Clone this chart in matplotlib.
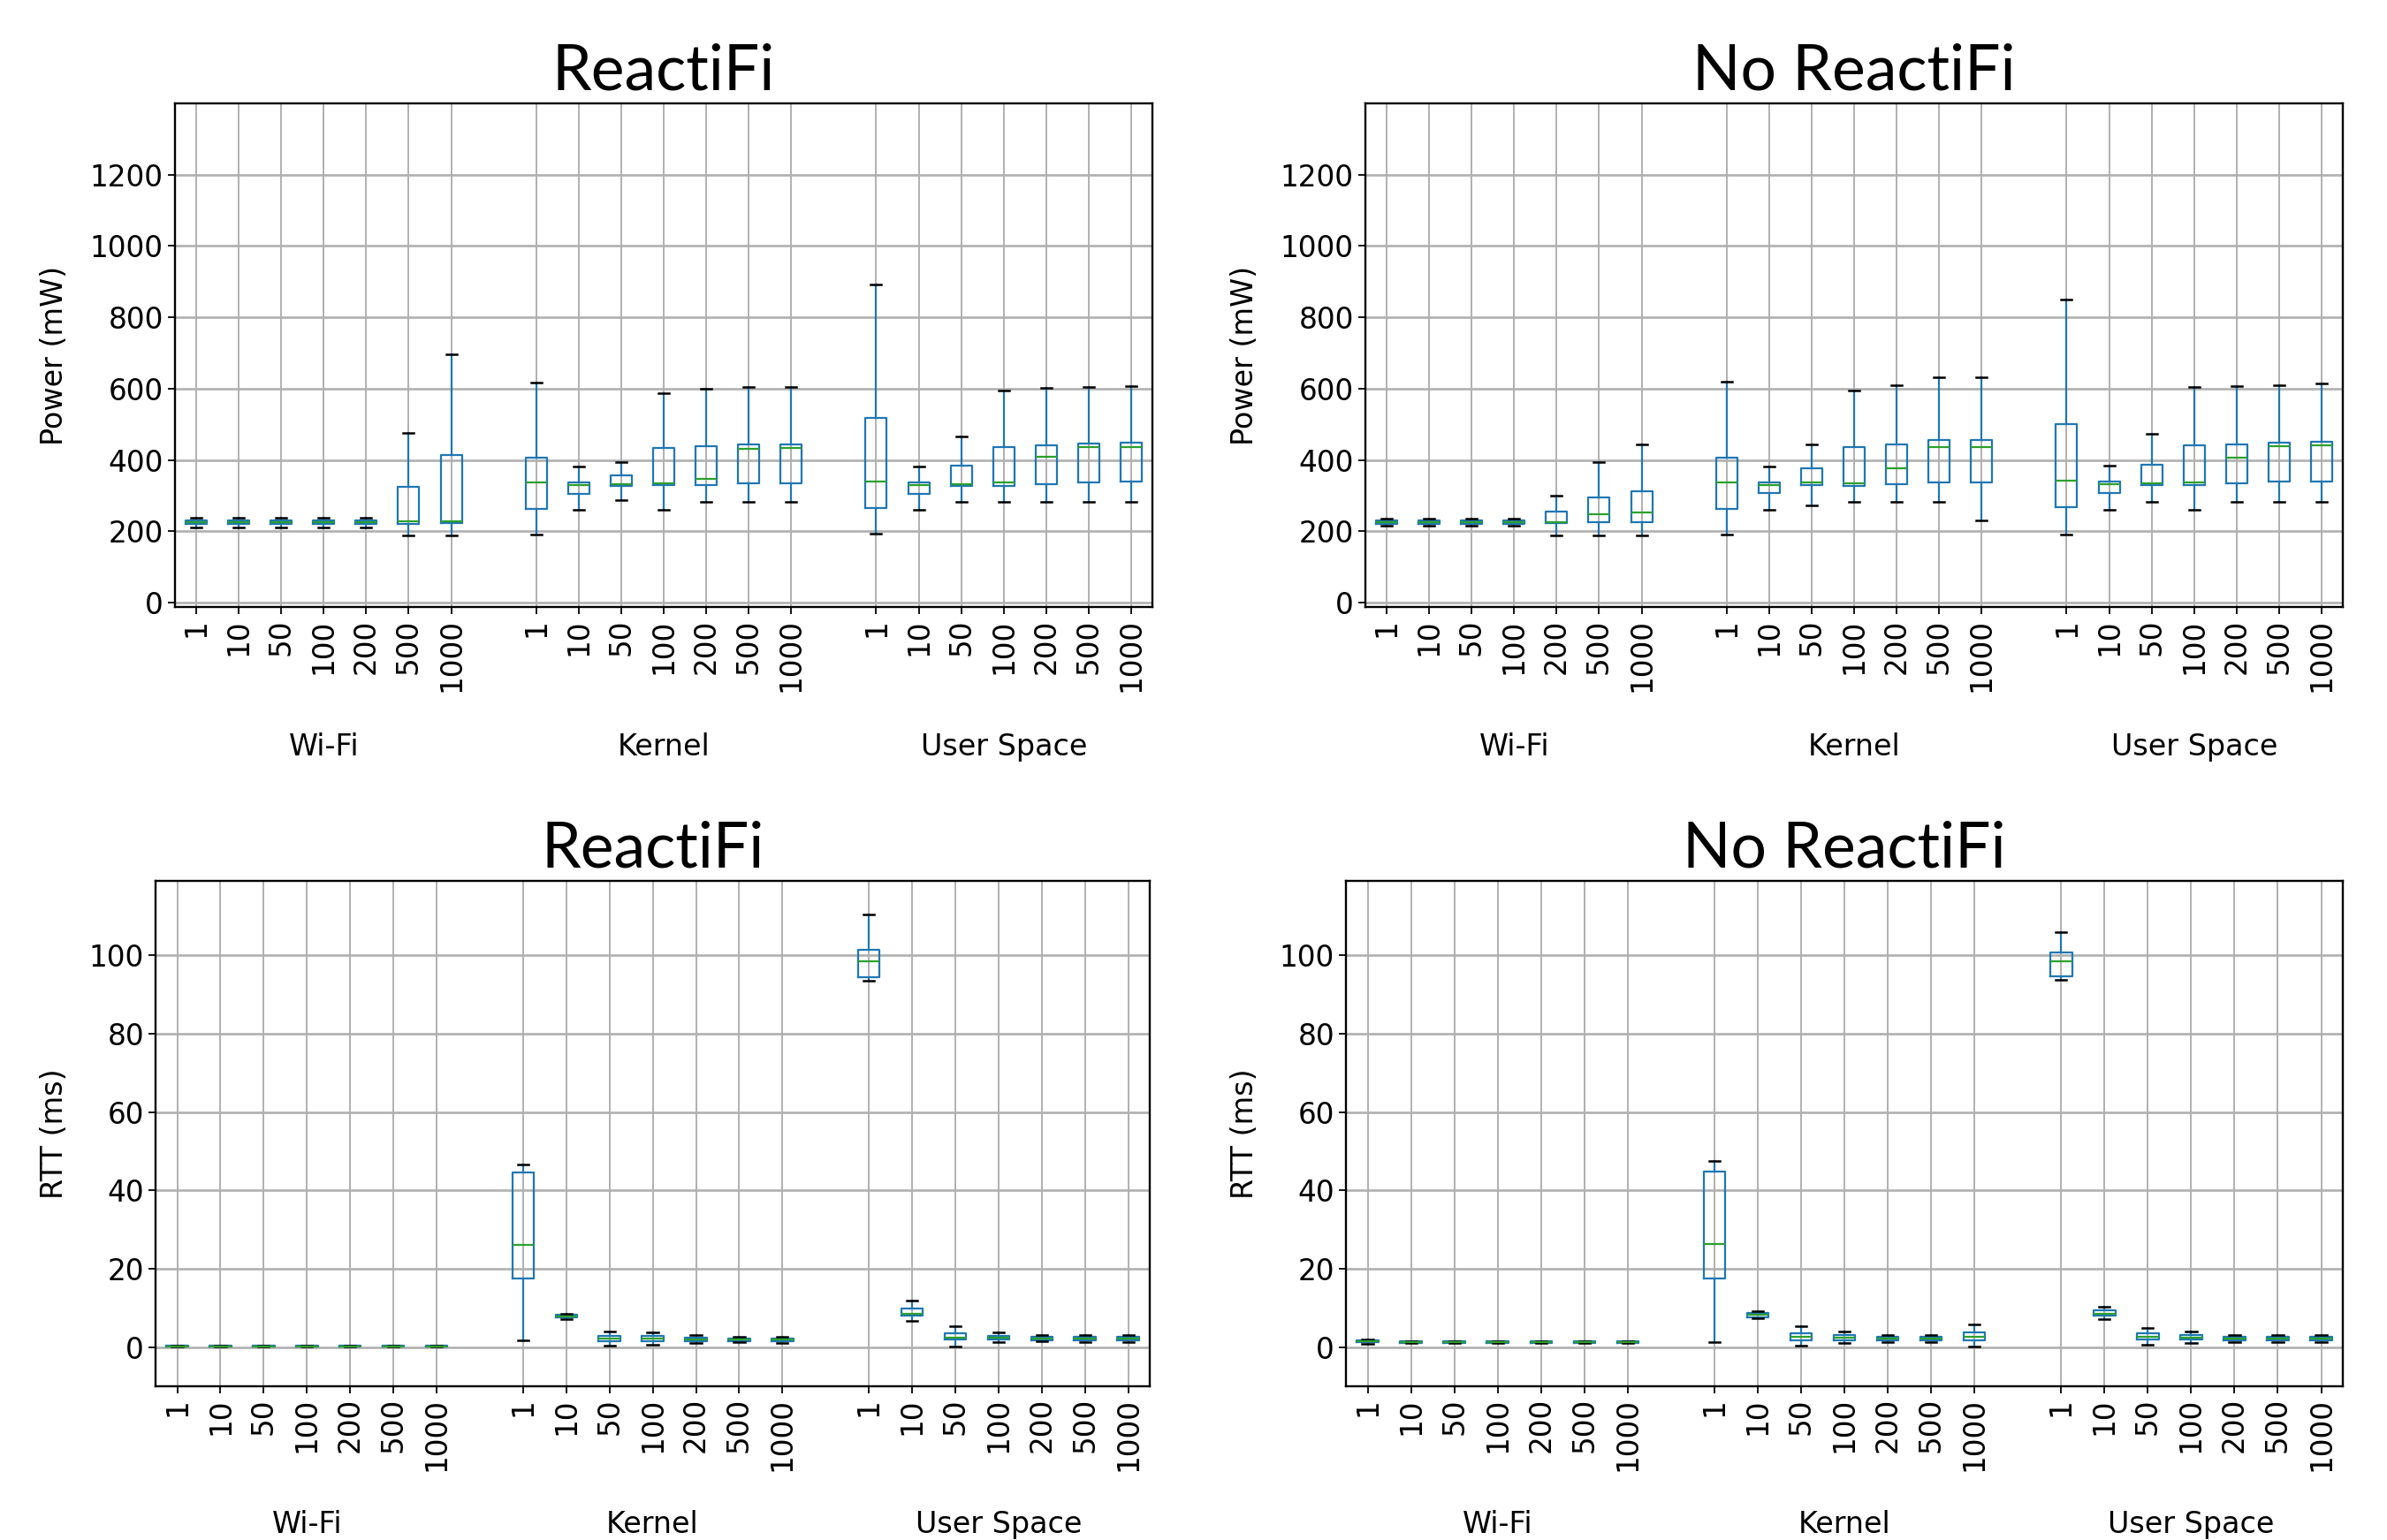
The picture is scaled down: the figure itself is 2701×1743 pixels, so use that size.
import matplotlib
matplotlib.use("Agg")
import matplotlib.pyplot as plt
import matplotlib.transforms as mtransforms

# ---------------- data ----------------
groups = ["Wi-Fi", "Kernel", "User Space"]
rates = ["1", "10", "50", "100", "200", "500", "1000"]

# Power (mW), ReactiFi
pw_r_med = [226, 226, 226, 226, 226, 228, 229,
            338, 330, 332, 335, 347, 432, 434,
            340, 330, 332, 337, 409, 436, 436]
pw_r_q1 = [221, 221, 221, 221, 221, 222, 223,
           264, 305, 327, 329, 330, 334, 336,
           266, 305, 327, 328, 332, 338, 340]
pw_r_q3 = [231, 231, 231, 231, 231, 326, 414,
           407, 338, 357, 433, 439, 443, 444,
           518, 338, 384, 436, 441, 446, 448]
pw_r_lo = [212, 212, 212, 212, 212, 190, 190,
           191, 261, 288, 261, 282, 284, 282,
           193, 261, 282, 282, 283, 282, 284]
pw_r_hi = [239, 239, 239, 239, 239, 475, 696,
           618, 381, 395, 588, 600, 605, 606,
           893, 381, 465, 594, 602, 605, 608]

# Power (mW), No ReactiFi
pw_n_med = [226, 226, 226, 226, 227, 249, 252,
            338, 330, 337, 336, 376, 436, 436,
            342, 332, 334, 338, 408, 440, 441]
pw_n_q1 = [221, 221, 221, 221, 223, 225, 226,
           264, 307, 329, 328, 333, 337, 337,
           269, 307, 329, 330, 334, 339, 341]
pw_n_q3 = [231, 231, 231, 231, 256, 296, 313,
           408, 338, 377, 437, 444, 456, 456,
           500, 340, 388, 441, 444, 448, 451]
pw_n_lo = [216, 216, 216, 216, 190, 190, 190,
           191, 261, 274, 283, 282, 282, 230,
           191, 261, 282, 261, 282, 282, 284]
pw_n_hi = [236, 236, 236, 236, 300, 395, 443,
           620, 382, 445, 594, 610, 633, 632,
           850, 385, 474, 604, 608, 611, 615]

# RTT (ms), ReactiFi
rtt_r_med = [0.2, 0.2, 0.2, 0.2, 0.2, 0.2, 0.2,
             26.0, 7.8, 2.2, 2.1, 2.0, 1.9, 2.0,
             98.5, 8.5, 2.5, 2.5, 2.3, 2.2, 2.2]
rtt_r_q1 = [0.1, 0.1, 0.1, 0.1, 0.1, 0.1, 0.1,
            17.5, 7.5, 1.6, 1.6, 1.6, 1.5, 1.5,
            94.4, 8.0, 1.9, 2.0, 1.8, 1.8, 1.8]
rtt_r_q3 = [0.3, 0.3, 0.3, 0.3, 0.3, 0.3, 0.3,
            44.6, 8.2, 2.8, 2.8, 2.4, 2.2, 2.3,
            101.3, 9.8, 3.5, 2.9, 2.7, 2.6, 2.6]
rtt_r_lo = [0.05, 0.05, 0.05, 0.05, 0.05, 0.05, 0.05,
            1.8, 7.2, 0.45, 0.6, 1.0, 1.2, 1.1,
            93.6, 6.6, 0.2, 1.2, 1.4, 1.3, 1.3]
rtt_r_hi = [0.35, 0.35, 0.35, 0.35, 0.35, 0.35, 0.35,
            46.7, 8.5, 4.1, 3.7, 3.0, 2.6, 2.6,
            110.5, 11.8, 5.3, 3.7, 3.0, 3.0, 3.0]

# RTT (ms), No ReactiFi
rtt_n_med = [1.4, 1.25, 1.25, 1.25, 1.25, 1.25, 1.25,
             26.4, 8.2, 2.7, 2.5, 2.2, 2.1, 2.7,
             98.4, 8.6, 2.6, 2.5, 2.2, 2.2, 2.2]
rtt_n_q1 = [1.2, 1.1, 1.1, 1.1, 1.1, 1.1, 1.1,
            17.5, 7.7, 1.8, 1.8, 1.7, 1.7, 1.8,
            94.6, 8.0, 1.9, 1.9, 1.8, 1.8, 1.8]
rtt_n_q3 = [1.7, 1.4, 1.4, 1.4, 1.4, 1.4, 1.4,
            44.8, 8.7, 3.5, 3.0, 2.7, 2.6, 3.7,
            100.8, 9.3, 3.5, 3.1, 2.7, 2.7, 2.7]
rtt_n_lo = [0.9, 1.0, 1.0, 1.0, 1.0, 1.0, 1.0,
            1.2, 7.3, 0.3, 1.0, 1.2, 1.2, 0.2,
            93.7, 7.2, 0.6, 1.1, 1.3, 1.3, 1.3]
rtt_n_hi = [2.0, 1.5, 1.5, 1.5, 1.5, 1.5, 1.5,
            47.6, 9.2, 5.4, 3.9, 3.1, 3.0, 5.8,
            106.0, 10.2, 4.9, 3.9, 3.1, 3.1, 3.1]

# ---------------- figure ----------------
W, H, DPI = 2701, 1743, 100
fig = plt.figure(figsize=(W / DPI, H / DPI), dpi=DPI)

TICK_FS = 23.5
LABEL_FS = 24
TITLE_FS = 51.5
title_font = ["Lato", "DejaVu Sans"]

positions = []
for g in range(len(groups)):
    for i in range(len(rates)):
        positions.append(g * (len(rates) + 1) + i + 1)
tick_labels = rates * len(groups)
group_centers = [g * (len(rates) + 1) + (len(rates) + 1) / 2 for g in range(len(groups))]

panels = [
    dict(rect=[0.0733, 0.6058, 0.4095, 0.3271], title="ReactiFi", ylabel="Power (mW)",
         data=(pw_r_med, pw_r_q1, pw_r_q3, pw_r_lo, pw_r_hi), ylim=(-12, 1400),
         yticks=[0, 200, 400, 600, 800, 1000, 1200], ylx=-0.1085, gy=-0.277),
    dict(rect=[0.5720, 0.6058, 0.4095, 0.3271], title="No ReactiFi", ylabel="Power (mW)",
         data=(pw_n_med, pw_n_q1, pw_n_q3, pw_n_lo, pw_n_hi), ylim=(-12, 1400),
         yticks=[0, 200, 400, 600, 800, 1000, 1200], ylx=-0.1085, gy=-0.277),
    dict(rect=[0.0652, 0.0998, 0.4165, 0.3282], title="ReactiFi", ylabel="RTT (ms)",
         data=(rtt_r_med, rtt_r_q1, rtt_r_q3, rtt_r_lo, rtt_r_hi), ylim=(-10, 119),
         yticks=[0, 20, 40, 60, 80, 100], ylx=-0.087, gy=-0.274),
    dict(rect=[0.5639, 0.0998, 0.4176, 0.3282], title="No ReactiFi", ylabel="RTT (ms)",
         data=(rtt_n_med, rtt_n_q1, rtt_n_q3, rtt_n_lo, rtt_n_hi), ylim=(-10, 119),
         yticks=[0, 20, 40, 60, 80, 100], ylx=-0.087, gy=-0.274),
]

for p in panels:
    ax = fig.add_axes(p["rect"])
    med, q1, q3, lo, hi = p["data"]
    stats = []
    for k in range(len(med)):
        stats.append(dict(med=med[k], q1=q1[k], q3=q3[k], whislo=lo[k], whishi=hi[k], fliers=[]))
    ax.bxp(stats, positions=positions, widths=0.5, showfliers=False,
           boxprops=dict(color="#1f77b4", linewidth=1.6),
           whiskerprops=dict(color="#1f77b4", linewidth=1.6),
           medianprops=dict(color="#2ca02c", linewidth=1.6),
           capprops=dict(color="black", linewidth=1.8))
    ax.set_xlim(0.5, positions[-1] + 0.5)
    ax.set_ylim(*p["ylim"])
    ax.set_yticks(p["yticks"])
    ax.set_xticks(positions)
    ax.set_xticklabels(tick_labels, rotation=90)
    ax.tick_params(labelsize=TICK_FS, width=1.3, length=6)
    ax.xaxis.grid(True, color="#b0b0b0", linewidth=1.4)
    ax.yaxis.grid(True, color="#b0b0b0", linewidth=1.9)
    ax.set_axisbelow(True)
    for s in ax.spines.values():
        s.set_linewidth(1.7)
    ax.set_ylabel(p["ylabel"], fontsize=LABEL_FS)
    ax.yaxis.set_label_coords(p["ylx"], 0.5)
    ax.set_title(p["title"], fontsize=TITLE_FS, family=title_font, pad=11)
    trans = mtransforms.blended_transform_factory(ax.transData, ax.transAxes)
    for gname, gc in zip(groups, group_centers):
        ax.text(gc, p["gy"], gname, transform=trans, ha="center", va="center",
                fontsize=LABEL_FS, clip_on=False)

fig.savefig("out.png", dpi=DPI)
